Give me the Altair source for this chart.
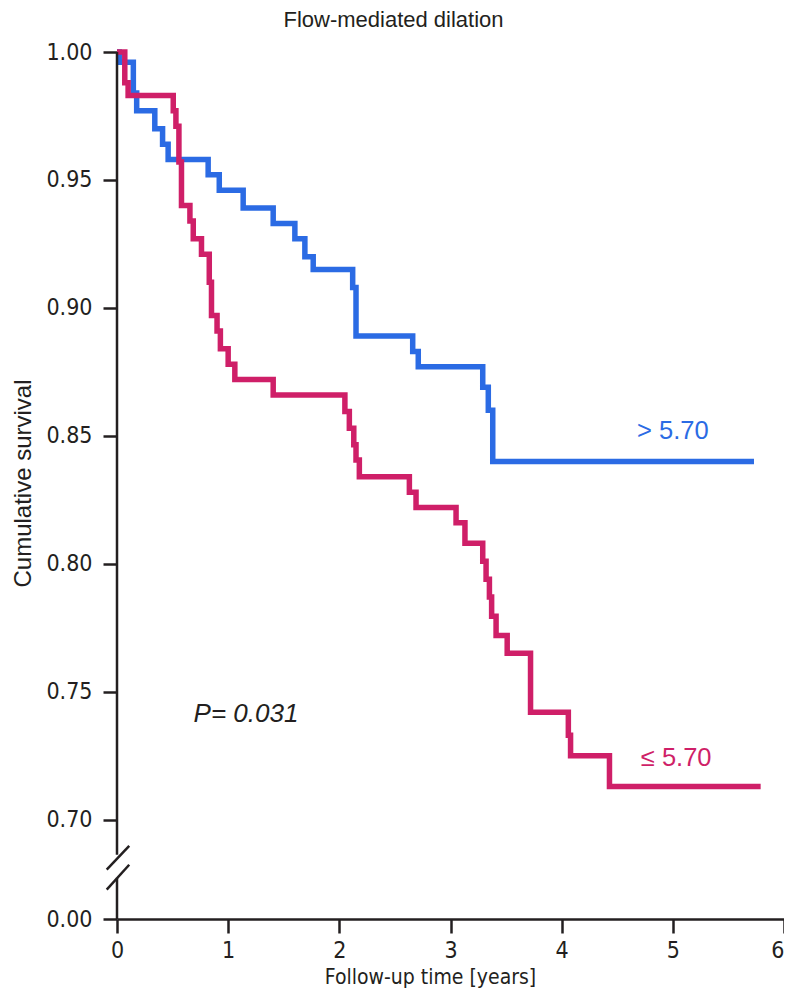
import altair as alt
import pandas as pd

# Kaplan-Meier steps: time in years, cumulative survival
high_time = [0.0, 0.02, 0.147, 0.177, 0.34, 0.41, 0.46, 0.82, 0.92, 1.135, 1.405,
             1.60, 1.69, 1.765, 2.12, 2.15, 2.66, 2.71, 3.29, 3.34, 3.38, 5.73]
high_surv = [1.000, 0.996, 0.984, 0.977, 0.970, 0.964, 0.958, 0.952, 0.946, 0.939, 0.933,
             0.927, 0.920, 0.915, 0.908, 0.889, 0.883, 0.877, 0.869, 0.860, 0.840, 0.840]

low_time = [0.0, 0.07, 0.10, 0.506, 0.53, 0.557, 0.58, 0.656, 0.686, 0.76, 0.83, 0.85,
            0.90, 0.93, 1.0, 1.06, 1.405, 2.05, 2.09, 2.13, 2.15, 2.18, 2.63, 2.69, 3.05,
            3.13, 3.29, 3.32, 3.35, 3.37, 3.41, 3.51, 3.72, 4.06, 4.08, 4.43, 5.79]
low_surv = [1.000, 0.988, 0.983, 0.977, 0.971, 0.957, 0.940, 0.934, 0.927, 0.921, 0.910, 0.897,
            0.891, 0.884, 0.878, 0.872, 0.866, 0.8595, 0.853, 0.8465, 0.8406, 0.834, 0.828, 0.822, 0.816,
            0.808, 0.801, 0.794, 0.787, 0.7795, 0.772, 0.765, 0.742, 0.733, 0.725, 0.713, 0.713]

groups = ["> 5.70", "\u2264 5.70"]
colors = ["#2b6be4", "#cf1f68"]

# group labels placed next to the curves
label_time = [5.0, 5.03]
label_surv = [0.852, 0.7242]
p_text = "P= 0.031"
p_time = 1.16
p_surv = 0.7414

# broken y axis: 0.00 is drawn just below 0.70
zero_pos = 0.6612
y_ticks = [zero_pos, 0.70, 0.75, 0.80, 0.85, 0.90, 0.95, 1.00]
x_ticks = [0, 1, 2, 3, 4, 5, 6]
gap = [0.6773, 0.6863]
slash_time = [-0.0925, 0.110]
slash_low = [0.6727, 0.6824]
slash_high = [0.6805, 0.6898]

INK = "#231f20"
NARROW = "Liberation Sans Narrow, DejaVu Sans Condensed, sans-serif"
SANS = "Liberation Sans, Arial, sans-serif"

curves = pd.concat(
    [
        pd.DataFrame({"t": high_time, "s": high_surv, "group": groups[0]}),
        pd.DataFrame({"t": low_time, "s": low_surv, "group": groups[1]}),
    ],
    ignore_index=True,
)
labels = pd.DataFrame({"t": label_time, "s": label_surv, "group": groups})
axis_parts = pd.DataFrame({"t": [0, 0], "s": [1.0, gap[0]], "s2": [gap[1], zero_pos]})
slashes = pd.DataFrame({
    "t": [slash_time[0]] * 2,
    "t2": [slash_time[1]] * 2,
    "s": [slash_low[0], slash_high[0]],
    "s2": [slash_low[1], slash_high[1]],
})
p_frame = pd.DataFrame({"t": [p_time], "s": [p_surv], "text": [p_text]})

color = alt.Color("group:N", scale=alt.Scale(domain=groups, range=colors), legend=None)
x_enc = alt.X(
    "t:Q",
    title="Follow-up time [years]",
    scale=alt.Scale(domain=[0, 6], nice=False),
    axis=alt.Axis(
        values=x_ticks, format="d", grid=False, tickSize=14, tickWidth=2.5, tickColor=INK,
        domainWidth=2.5, domainColor=INK, labelFont=NARROW, labelFontSize=23,
        labelColor=INK, labelPadding=6, labelFlush=False,
        labelAlign={"condition": {"test": "datum.value == 6", "value": "right"}, "value": "center"},
        titleFont=NARROW, titleFontSize=21, titleFontWeight="normal", titleColor=INK,
        titleX=313, titleY=64, titleBaseline="alphabetic",
    ),
)
y_enc = alt.Y(
    "s:Q",
    title="Cumulative survival",
    scale=alt.Scale(domain=[zero_pos, 1.0], nice=False, zero=False),
    axis=alt.Axis(
        values=y_ticks, grid=False, domain=False, tickSize=14, tickWidth=2.5, tickColor=INK,
        labelExpr=f"datum.value < {gap[0]} ? '0.00' : format(datum.value, '.2f')",
        labelFont=NARROW, labelFontSize=23, labelColor=INK, labelPadding=11,
        titleFont=SANS, titleFontSize=24, titleFontWeight="normal", titleColor=INK,
        titleX=-87, titleY=431, titleAngle=270, titleBaseline="alphabetic",
    ),
)

high_line = (
    alt.Chart(curves[curves["group"] == groups[0]])
    .mark_line(interpolate="step-after", strokeWidth=5.5)
    .encode(x=x_enc, y=y_enc, color=color)
)
low_line = (
    alt.Chart(curves[curves["group"] == groups[1]])
    .mark_line(interpolate="step-after", strokeWidth=5.5)
    .encode(x="t:Q", y="s:Q", color=color)
)
y_axis_line = (
    alt.Chart(axis_parts)
    .mark_rule(strokeWidth=2.5, color=INK)
    .encode(x="t:Q", y="s:Q", y2="s2:Q")
)
breaks = (
    alt.Chart(slashes)
    .mark_rule(strokeWidth=2.5, color=INK)
    .encode(x="t:Q", x2="t2:Q", y="s:Q", y2="s2:Q")
)
group_text = (
    alt.Chart(labels)
    .mark_text(font=SANS, fontSize=25.5, align="center", baseline="middle")
    .encode(x="t:Q", y="s:Q", text="group:N", color=color)
)
p_label = (
    alt.Chart(p_frame)
    .mark_text(font=SANS, fontSize=26, fontStyle="italic", align="center",
               baseline="middle", color=INK)
    .encode(x="t:Q", y="s:Q", text="text:N")
)

chart = (
    alt.layer(high_line, low_line, y_axis_line, breaks, group_text, p_label)
    .properties(
        width=667,
        height=867,
        title=alt.TitleParams(
            "Flow-mediated dilation", font=SANS, fontSize=22, fontWeight="normal",
            color=INK, anchor="middle", frame="group", dx=-57, offset=9,
        ),
        autosize=alt.AutoSizeParams(type="none"),
        padding={"left": 109, "top": 44, "right": 0, "bottom": 69},
    )
    .configure_view(stroke=None)
)

chart.save("out.html", embed_options={"renderer": "svg", "actions": False})
